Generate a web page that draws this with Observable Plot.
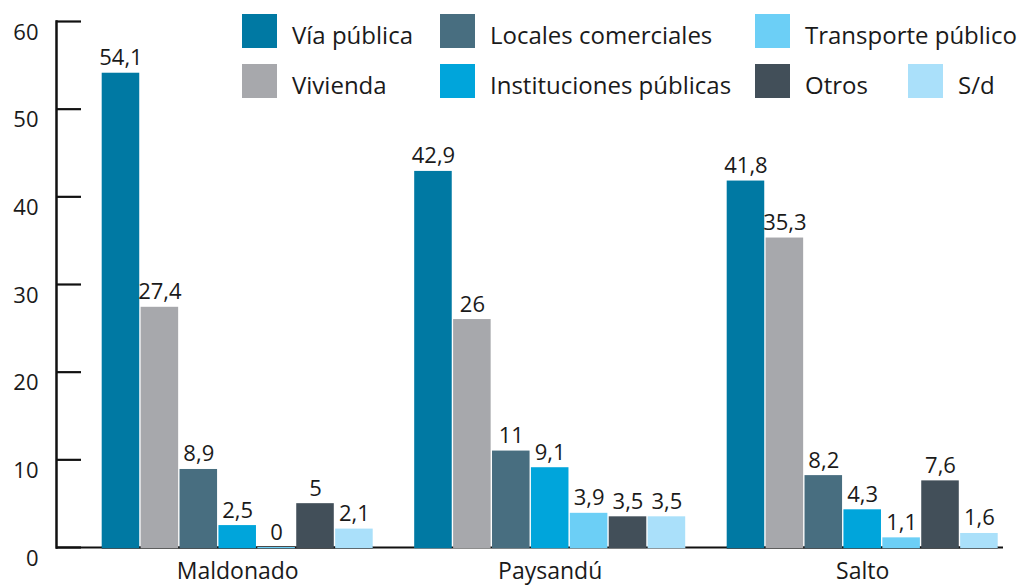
<!DOCTYPE html>
<html>
<head>
<meta charset="utf-8">
<script src="https://cdn.jsdelivr.net/npm/d3@7"></script>
<script src="https://cdn.jsdelivr.net/npm/@observablehq/plot@0.6"></script>
<style>
  html, body { margin: 0; padding: 0; background: #fff; }
  #wrap { position: relative; width: 1019px; height: 585px; font-family: "Open Sans", Lato, sans-serif; color: #1a1a1a; }
  #legend {
    position: absolute; left: 242px; top: 14px;
    display: grid; grid-auto-flow: column;
    grid-template-rows: 34px 34px; row-gap: 16px;
    grid-template-columns: 198px 315px 153px 100px;
    font-size: 24px;
  }
  .item { display: flex; align-items: center; white-space: nowrap; }
  .item:last-child { grid-row: 2; grid-column: 4; }
  .sw { width: 35px; height: 34px; margin-right: 15px; flex: none; }
  .lbl { position: relative; top: 3px; }
</style>
</head>
<body>
<div id="wrap"><div id="legend"></div></div>
<script>
const groups = ["Maldonado", "Paysandú", "Salto"];
const series = ["Vía pública", "Vivienda", "Locales comerciales", "Instituciones públicas", "Transporte público", "Otros", "S/d"];
const colors = ["#0079a3", "#a7a8ac", "#486e80", "#00a5db", "#6ccff6", "#424f59", "#aae0fa"];
const maldonado = [54.1, 27.4, 8.9, 2.5, 0, 5, 2.1];
const paysandu = [42.9, 26, 11, 9.1, 3.9, 3.5, 3.5];
const salto = [41.8, 35.3, 8.2, 4.3, 1.1, 7.6, 1.6];
const yTicks = [0, 10, 20, 30, 40, 50, 60];

const values = [maldonado, paysandu, salto];
const data = groups.flatMap((g, i) => series.map((s, j) => ({group: g, series: s, value: values[i][j]})));
const fmt = v => String(v).replace(".", ",");

const chart = Plot.plot({
  width: 1019,
  height: 585,
  marginLeft: 56,
  marginRight: 16,
  marginTop: 21,
  marginBottom: 38,
  style: {fontFamily: "'Open Sans', Lato, sans-serif", fontSize: "22px", color: "#1a1a1a", background: "white"},
  fx: {domain: groups, paddingInner: 0.1328, paddingOuter: 0.0816, align: 0.896, round: false, label: null},
  x: {domain: series, paddingInner: 0.035, paddingOuter: 0, round: false, axis: null},
  y: {domain: [0, 60], label: null},
  color: {domain: series, range: colors},
  marks: [
    Plot.ruleY([0], {facetAnchor: "left", insetLeft: -45.7, insetRight: -41.5, strokeWidth: 2.2, stroke: "#111"}),
    Plot.ruleY([0], {facetAnchor: "right", insetLeft: -41.5, insetRight: -5.3, strokeWidth: 2.2, stroke: "#111"}),
    Plot.ruleY([0], {strokeWidth: 2.2, stroke: "#111"}),
    Plot.frame({anchor: "left", facetAnchor: "left", insetLeft: -45.7, strokeWidth: 2.5, stroke: "#111"}),
    Plot.axisY({ticks: yTicks, tickSize: -25, fill: "none", dx: -45.7, strokeWidth: 2.2, stroke: "#111", label: null}),
    Plot.axisY({ticks: yTicks, tickSize: 0, tickPadding: 18, dx: -45.7, dy: 11, fontSize: 22, tickFormat: fmt, label: null}),
    Plot.barY(data, {fx: "group", x: "series", y: "value", fill: "series", insetBottom: -1.2}),
    Plot.text(data, {fx: "group", x: "series", y: "value", text: d => fmt(d.value), dy: -8, lineAnchor: "bottom", fontSize: 22}),
    Plot.axisFx({anchor: "bottom", tickSize: 0, tickPadding: 15, fontSize: 23, label: null})
  ]
});
document.getElementById("wrap").prepend(chart);

const legend = document.getElementById("legend");
series.forEach((s, i) => {
  const item = document.createElement("div");
  item.className = "item";
  const sw = document.createElement("span");
  sw.className = "sw";
  sw.style.background = colors[i];
  const t = document.createElement("span");
  t.className = "lbl";
  t.textContent = s;
  item.append(sw, t);
  legend.append(item);
});
</script>
</body>
</html>
